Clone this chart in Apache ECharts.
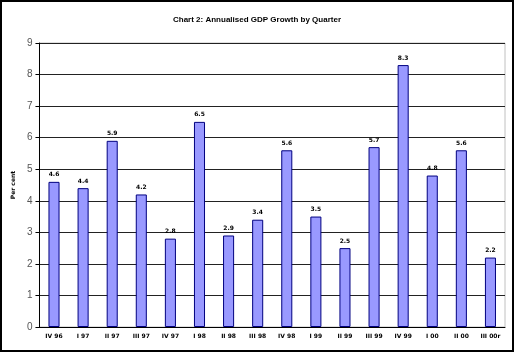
<!DOCTYPE html>
<html><head><meta charset="utf-8">
<script src="https://cdn.jsdelivr.net/npm/echarts@6/dist/echarts.min.js"></script>
<style>html,body{margin:0;padding:0;background:#fff}#c{width:514px;height:352px;box-sizing:border-box;border:2px solid #000}</style>
</head><body><div id="c"></div>
<script>
const categories = ["IV 96","I 97","II 97","III 97","IV 97","I 98","II 98","III 98","IV 98","I 99","II 99","III 99","IV 99","I 00","II 00","III 00r"];
const values = [4.6,4.4,5.9,4.2,2.8,6.5,2.9,3.4,5.6,3.5,2.5,5.7,8.3,4.8,5.6,2.2];
const yTicks = [0,1,2,3,4,5,6,7,8,9];
const chart = echarts.init(document.getElementById('c'), null, {renderer:'canvas'});
chart.setOption({
  animation:false,
  title:{text:"Chart 2: Annualised GDP Growth by Quarter",left:'center',top:9,textStyle:{fontFamily:'Arial, Liberation Sans',fontSize:8,fontWeight:'bold',color:'#000'}},
  grid:{left:34,right:7,top:41,bottom:23,show:true,borderColor:'#c0c0c0',borderWidth:1},
  xAxis:{type:'category',data:categories,axisLine:{lineStyle:{color:'#000'}},axisTick:{show:false},
    axisLabel:{fontSize:6,fontWeight:'bold',color:'#000',fontFamily:'Verdana, DejaVu Sans',margin:6,interval:0}},
  yAxis:{type:'value',min:yTicks[0],max:yTicks[yTicks.length-1],interval:1,name:'Per cent',nameLocation:'middle',nameGap:22,
    nameTextStyle:{fontSize:6,fontWeight:'bold',color:'#000',fontFamily:'Verdana, DejaVu Sans'},
    axisLine:{show:true,lineStyle:{color:'#000'}},axisTick:{show:true,length:4,lineStyle:{color:'#000'}},
    axisLabel:{fontSize:10,color:'#555',fontFamily:'Arial, Liberation Sans',margin:7},
    splitLine:{lineStyle:{color:'#222',width:1}}},
  series:[{type:'bar',data:values,barWidth:'38%',
    itemStyle:{color:'#9999ff',borderColor:'#000080',borderWidth:1},
    label:{show:true,position:'top',distance:4,fontSize:6,fontWeight:'bold',color:'#000',fontFamily:'Verdana, DejaVu Sans',formatter:p=>p.value.toFixed(1)}}]
});
</script></body></html>
